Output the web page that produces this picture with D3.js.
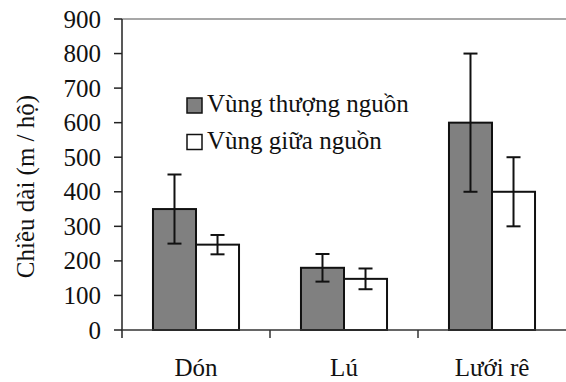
<!DOCTYPE html>
<html>
<head>
<meta charset="utf-8">
<script src="https://cdn.jsdelivr.net/npm/d3@7"></script>
</head>
<body style="margin:0">
<div id="chart"></div>
<script>
// data
const categories = ["Dón", "Lú", "Lưới rê"];
const seriesNames = ["Vùng thượng nguồn", "Vùng giữa nguồn"];
const upstream = [350, 180, 600];
const upstreamErr = [100, 40, 200];
const midstream = [247, 148, 400];
const midstreamErr = [28, 30, 100];
const yTicks = [0, 100, 200, 300, 400, 500, 600, 700, 800, 900];

const W = 566, H = 382;
const margin = {top: 19, right: 0, bottom: 52, left: 122};
const textStyle = "font-family: 'Liberation Serif', 'Times New Roman', serif; font-size: 25px; fill: #111;";

const svg = d3.select("#chart")
  .append("svg")
  .attr("width", W)
  .attr("height", H);

const x = d3.scaleBand()
  .domain(categories)
  .range([margin.left, W - margin.right])
  .padding(0);

const xSub = d3.scaleBand()
  .domain(seriesNames)
  .range([0, x.bandwidth()])
  .paddingInner(0)
  .paddingOuter(0.72);

const y = d3.scaleLinear()
  .domain([0, 900])
  .range([H - margin.bottom, margin.top]);

const color = d3.scaleOrdinal()
  .domain(seriesNames)
  .range(["#808080", "#ffffff"]);

// top frame line
svg.append("line")
  .attr("x1", margin.left).attr("x2", W)
  .attr("y1", y(900)).attr("y2", y(900))
  .attr("stroke", "#8a8a8a")
  .attr("stroke-width", 1.5);

// y axis line, drawn by hand so no sans-serif default sneaks in
svg.append("line")
  .attr("x1", margin.left).attr("x2", margin.left)
  .attr("y1", y(900)).attr("y2", y(0) + 8)
  .attr("stroke", "#222").attr("stroke-width", 1.5);

const yt = svg.append("g")
  .selectAll("g")
  .data(yTicks)
  .join("g")
  .attr("transform", d => `translate(${margin.left},${y(d)})`);
yt.append("line")
  .attr("x1", -8).attr("x2", 0)
  .attr("stroke", "#222").attr("stroke-width", 1.5);
yt.append("text")
  .attr("x", -21)
  .attr("dy", "0.34em")
  .attr("text-anchor", "end")
  .attr("style", textStyle)
  .text(d => d);

// bars
const groups = categories.map((c, i) => ({
  cat: c,
  items: [
    {key: seriesNames[0], value: upstream[i], err: upstreamErr[i]},
    {key: seriesNames[1], value: midstream[i], err: midstreamErr[i]}
  ]
}));

const g = svg.append("g")
  .selectAll("g")
  .data(groups)
  .join("g")
  .attr("transform", d => `translate(${x(d.cat)},0)`);

g.selectAll("rect")
  .data(d => d.items)
  .join("rect")
  .attr("x", d => xSub(d.key))
  .attr("y", d => y(d.value))
  .attr("width", xSub.bandwidth())
  .attr("height", d => y(0) - y(d.value))
  .attr("fill", d => color(d.key))
  .attr("stroke", "#111")
  .attr("stroke-width", 2);

// error bars
const cap = 7;
const eb = g.selectAll("g.err")
  .data(d => d.items)
  .join("g")
  .attr("class", "err")
  .attr("stroke", "#111")
  .attr("stroke-width", 2);
eb.append("line")
  .attr("x1", d => xSub(d.key) + xSub.bandwidth() / 2)
  .attr("x2", d => xSub(d.key) + xSub.bandwidth() / 2)
  .attr("y1", d => y(d.value + d.err))
  .attr("y2", d => y(d.value - d.err));
eb.append("line")
  .attr("x1", d => xSub(d.key) + xSub.bandwidth() / 2 - cap)
  .attr("x2", d => xSub(d.key) + xSub.bandwidth() / 2 + cap)
  .attr("y1", d => y(d.value + d.err))
  .attr("y2", d => y(d.value + d.err));
eb.append("line")
  .attr("x1", d => xSub(d.key) + xSub.bandwidth() / 2 - cap)
  .attr("x2", d => xSub(d.key) + xSub.bandwidth() / 2 + cap)
  .attr("y1", d => y(d.value - d.err))
  .attr("y2", d => y(d.value - d.err));

// x axis baseline + ticks between categories
svg.append("line")
  .attr("x1", margin.left).attr("x2", W)
  .attr("y1", y(0)).attr("y2", y(0))
  .attr("stroke", "#333").attr("stroke-width", 1.5);

svg.append("g")
  .selectAll("line")
  .data(categories.slice(1))
  .join("line")
  .attr("x1", d => x(d)).attr("x2", d => x(d))
  .attr("y1", y(0)).attr("y2", y(0) + 8)
  .attr("stroke", "#333").attr("stroke-width", 1.5);

// category labels
svg.append("g")
  .selectAll("text")
  .data(categories)
  .join("text")
  .attr("x", d => x(d) + x.bandwidth() / 2)
  .attr("y", y(0) + 46)
  .attr("text-anchor", "middle")
  .attr("style", textStyle)
  .text(d => d);

// y axis title
svg.append("text")
  .attr("transform", `translate(34,${(y(0) + y(900)) / 2 + 12}) rotate(-90)`)
  .attr("text-anchor", "middle")
  .attr("style", textStyle)
  .text("Chiều dài (m / hộ)");

// legend
const legend = svg.append("g")
  .attr("transform", "translate(187,98)");
const lg = legend.selectAll("g")
  .data(seriesNames)
  .join("g")
  .attr("transform", (d, i) => `translate(0,${i * 36.5})`);
lg.append("rect")
  .attr("width", 15).attr("height", 15)
  .attr("fill", d => color(d))
  .attr("stroke", "#111").attr("stroke-width", 1.5);
lg.append("text")
  .attr("x", 20)
  .attr("y", 14)
  .attr("style", textStyle)
  .text(d => d);
</script>
</body>
</html>
